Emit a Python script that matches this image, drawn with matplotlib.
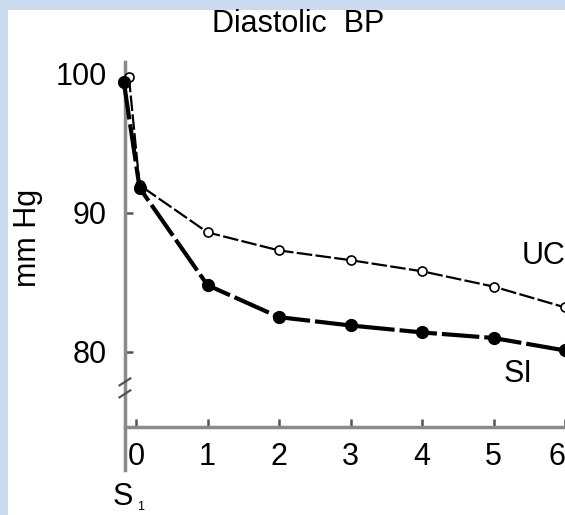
import matplotlib
matplotlib.use("Agg")
import matplotlib.pyplot as plt
from matplotlib.patches import Rectangle

# data
uc_x = [-0.10, 0.05, 1, 2, 3, 4, 5, 6]
uc_y = [99.8, 92.0, 88.6, 87.3, 86.6, 85.8, 84.7, 83.2]
si_x = [-0.17, 0.05, 1, 2, 3, 4, 5, 6]
si_y = [99.4, 91.8, 84.8, 82.5, 81.9, 81.4, 81.0, 80.1]
x_ticks = [0, 1, 2, 3, 4, 5, 6]
y_ticks = [80, 90, 100]

plt.rcParams['font.family'] = ['Liberation Sans', 'DejaVu Sans']
FS = 22

W, H = 565, 515
fig = plt.figure(figsize=(W / 100, H / 100), dpi=100)
fig.patch.set_facecolor('#c9dcef')
# white page inside the light blue slide border
fig.patches.append(Rectangle((8 / W, 0), 1, 1 - 10 / H, transform=fig.transFigure,
                             facecolor='white', edgecolor='none', zorder=-10))

# axes box in pixels: x 125..565, y 62..470
ax = fig.add_axes([125 / W, (H - 470) / H, 440 / W, 408 / H])
ax.set_facecolor('none')
ax.set_xlim(-0.154, 6.0)
ax.set_ylim(71.5, 100.86)

axis_grey = '#8a8a8a'
for s in ['top', 'right']:
    ax.spines[s].set_visible(False)
ax.spines['left'].set_color(axis_grey)
ax.spines['left'].set_linewidth(2.5)
ax.spines['bottom'].set_position(('data', 74.6))
ax.spines['bottom'].set_color(axis_grey)
ax.spines['bottom'].set_linewidth(2.5)

ax.set_xticks(x_ticks)
ax.set_xticklabels([str(t) for t in x_ticks], fontsize=FS)
ax.get_xticklabels()[-1].set_ha('right')  # last label sits against the edge
ax.set_yticks(y_ticks)
ax.set_yticklabels([str(t) for t in y_ticks], fontsize=FS)
ax.tick_params(axis='x', direction='in', length=6, width=1.8, color='#555555', pad=11)
ax.tick_params(axis='y', direction='in', length=6, width=1.8, color='#555555', pad=13)

# axis break marks on the y axis
for yb in [77.84, 76.98]:
    ax.plot([-0.23, -0.08], [yb - 0.25, yb + 0.25], color='#555555', lw=1.6,
            clip_on=False, zorder=5)

# UC: thin dashed line, open circles
ax.plot(uc_x, uc_y, color='black', lw=1.6, dashes=(7, 1.5),
        marker='o', markersize=6.5, markerfacecolor='white',
        markeredgecolor='black', markeredgewidth=1.2, clip_on=False, zorder=3)
# SI: thick line, filled circles
ax.plot(si_x, si_y, color='black', lw=3.0, dashes=(9, 1.2),
        marker='o', markersize=8.5, markerfacecolor='black',
        markeredgecolor='black', clip_on=False, zorder=4)

ax.text(5.70, 86.9, 'UC', fontsize=FS, ha='center', va='center')
ax.text(5.35, 78.4, 'SI', fontsize=FS, ha='center', va='center')

fig.text(298 / W, 1 - 24 / H, 'Diastolic  BP', fontsize=FS, ha='center', va='center')
fig.text(28 / W, 1 - 238 / H, 'mm Hg', fontsize=FS, rotation=90,
         ha='center', va='center')
fig.text(123 / W, 1 - 497 / H, 'S', fontsize=FS, ha='center', va='center')
fig.text(141 / W, 1 - 507 / H, '1', fontsize=9, ha='center', va='center')

fig.savefig('out.png', dpi=100)
